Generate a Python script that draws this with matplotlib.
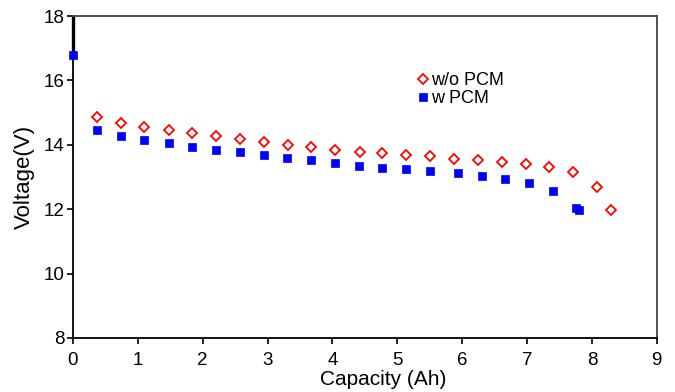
import matplotlib
matplotlib.use("Agg")
import matplotlib.pyplot as plt

plt.rcParams['font.family'] = ['Liberation Sans', 'DejaVu Sans']

# w/o PCM (red open diamonds)
cap_wo = [0.375, 0.745, 1.10, 1.477, 1.836, 2.21, 2.57, 2.94, 3.31, 3.67, 4.04,
          4.42, 4.77, 5.14, 5.50, 5.875, 6.245, 6.616, 6.98, 7.34, 7.71, 8.08, 8.29]
volt_wo = [14.85, 14.67, 14.55, 14.45, 14.36, 14.26, 14.18, 14.08, 13.98, 13.92, 13.85,
           13.77, 13.74, 13.69, 13.65, 13.57, 13.53, 13.46, 13.40, 13.31, 13.15, 12.68, 11.97]

# w PCM (blue filled squares)
cap_w = [0.0, 0.37, 0.735, 1.10, 1.477, 1.836, 2.21, 2.57, 2.94, 3.30, 3.67, 4.04,
         4.41, 4.77, 5.14, 5.50, 5.93, 6.30, 6.66, 7.03, 7.40, 7.76, 7.80]
volt_w = [16.8, 14.46, 14.27, 14.15, 14.06, 13.94, 13.85, 13.77, 13.67, 13.58, 13.52, 13.44,
          13.35, 13.29, 13.24, 13.19, 13.11, 13.04, 12.94, 12.80, 12.57, 12.03, 11.98]

# initial voltage drop at zero capacity
cap_init = [0.0, 0.0]
volt_init = [18.0, 16.8]

x_ticks = [0, 1, 2, 3, 4, 5, 6, 7, 8, 9]
y_ticks = [8, 10, 12, 14, 16, 18]

fig = plt.figure(figsize=(6.75, 3.92), dpi=100)
ax = fig.add_axes([0.108, 0.138, 0.865, 0.821])

ax.plot(cap_init, volt_init, color='black', lw=2.4, solid_capstyle='butt',
        zorder=2, clip_on=False)
ax.plot(cap_wo, volt_wo, linestyle='none', marker='D', markersize=4.6,
        markerfacecolor='white', markeredgecolor='#ff0000', markeredgewidth=1.3,
        label='w/o PCM', zorder=3, clip_on=False)
ax.plot(cap_w, volt_w, linestyle='none', marker='s', markersize=6,
        markerfacecolor='#0000ff', markeredgecolor='#0000ff', markeredgewidth=0.5,
        label='w PCM', zorder=4, clip_on=False)

ax.set_xlim(0, 9)
ax.set_ylim(8, 18)
ax.set_xticks(x_ticks)
ax.set_yticks(y_ticks)
ax.tick_params(axis='both', direction='out', length=4, width=1.2, labelsize=13.5,
               colors='black')
ax.tick_params(axis='x', pad=6)
ax.tick_params(axis='y', pad=2)
ax.tick_params(top=False, right=False)
for s in ax.spines.values():
    s.set_linewidth(1.3)
ax.spines['right'].set_color('#444444')
ax.spines['top'].set_color('#444444')

ax.set_xlabel('Capacity (Ah)', fontsize=15)
ax.xaxis.set_label_coords(0.531, -0.10)
ax.set_ylabel('Voltage(V)', fontsize=16, labelpad=6)

leg = ax.legend(loc='upper left', bbox_to_anchor=(0.577, 0.854), frameon=False,
                fontsize=13, handlelength=0.5, handletextpad=0.2,
                borderpad=0, labelspacing=0.05)

fig.savefig('out.png', dpi=100)
